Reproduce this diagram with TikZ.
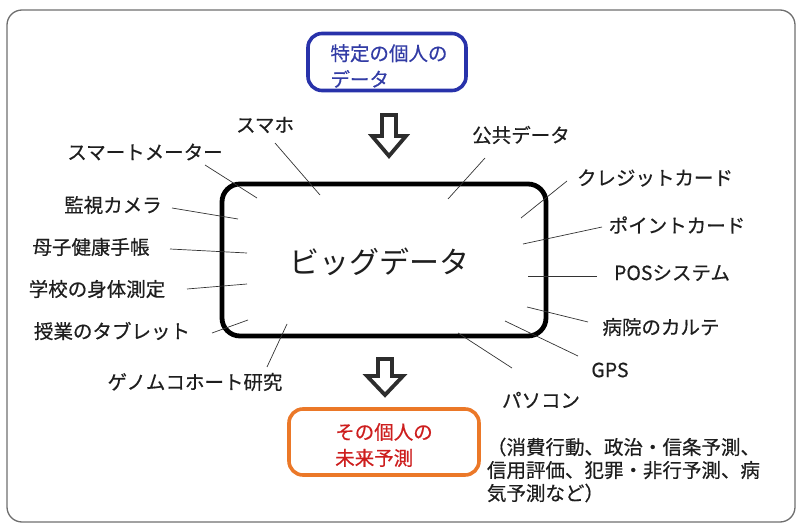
\documentclass[tikz,border=0pt]{standalone}
\usepackage{fontspec}
\setmainfont{Noto Sans CJK JP}
\newfontfamily\lblfont[FakeBold=0.5]{Noto Sans CJK JP}
\definecolor{framegray}{RGB}{110,110,110}
\definecolor{boxblue}{RGB}{40,50,170}
\definecolor{txtblue}{RGB}{50,60,165}
\definecolor{boxorange}{RGB}{235,120,40}
\definecolor{txtred}{RGB}{205,30,30}
\definecolor{arrowgray}{RGB}{45,45,45}
\definecolor{txtdark}{RGB}{30,30,30}
\tikzset{
  lbl/.style={inner sep=0pt, font=\lblfont\fontsize{19.5}{23}\selectfont, text=txtdark},
  conn/.style={draw=black!80, line width=0.7pt},
  hollowarrow/.style={draw=arrowgray, line width=3.8pt, line join=miter},
}
\begin{document}
\begin{tikzpicture}[x=1pt,y=-1pt]
\useasboundingbox (0,0) rectangle (804,532);
% outer frame
\draw[framegray, line width=1.3pt, rounded corners=15pt] (7,10) rectangle (795,522);
% main box
\node[draw=black, line width=4.8pt, rounded corners=18pt, minimum width=324pt, minimum height=152pt, inner sep=0pt] (big) at (384,260) {};
\node[inner sep=0pt, font=\fontsize{30}{34}\selectfont, text=txtdark] (bigtxt) at (379,262) {ビッグデータ};
% top blue box
\node[draw=boxblue, line width=3.6pt, rounded corners=14pt, minimum width=158pt, minimum height=57pt, inner sep=0pt] (topbox) at (387,62) {};
\node[inner sep=0pt, align=left, font=\lblfont\fontsize{19.5}{26}\selectfont, text=txtblue] (toptxt) at (389,66) {特定の個人の\\データ};
% bottom orange box
\node[draw=boxorange, line width=3.6pt, rounded corners=14pt, minimum width=190pt, minimum height=66pt, inner sep=0pt] (botbox) at (384,442) {};
\node[inner sep=0pt, align=left, font=\lblfont\fontsize{19.5}{26}\selectfont, text=txtred] (bottxt) at (384,445) {その個人の\\未来予測};
% note
\node[lbl, align=left] (note) at (623.5,470) {（消費行動、政治・信条予測、\\信用評価、犯罪・非行予測、病\\気予測など）};
% hollow arrows
\draw[hollowarrow] (382,115) -- (396,115) -- (396,136) -- (406,136) -- (389,156) -- (372,136) -- (382,136) -- cycle;
\draw[hollowarrow] (378,359) -- (392,359) -- (392,376) -- (403,376) -- (385,395) -- (367,376) -- (378,376) -- cycle;
% labels
\node[lbl] (smaho) at (265,125) {スマホ};
\node[lbl] (smeter) at (145,152) {スマートメーター};
\node[lbl] (camera) at (113,205) {監視カメラ};
\node[lbl] (boshi) at (91,247) {母子健康手帳};
\node[lbl] (gakko) at (97,289) {学校の身体測定};
\node[lbl] (tablet) at (112,331) {授業のタブレット};
\node[lbl] (genome) at (195,382) {ゲノムコホート研究};
\node[lbl] (public) at (521,135) {公共データ};
\node[lbl] (credit) at (655,178) {クレジットカード};
\node[lbl] (point) at (677,225) {ポイントカード};
\node[lbl] (pos) at (672,273) {POSシステム};
\node[lbl] (karte) at (661,327) {病院のカルテ};
\node[lbl] (gps) at (610,370) {GPS};
\node[lbl] (pc) at (541,400) {パソコン};
% connector endpoints
\coordinate (a1) at (205,165); \coordinate (b1) at (257,198);
\coordinate (a2) at (275,143); \coordinate (b2) at (320,195);
\coordinate (a3) at (172,208); \coordinate (b3) at (238,219);
\coordinate (a4) at (170,249); \coordinate (b4) at (247,253);
\coordinate (a5) at (187,289); \coordinate (b5) at (247,284);
\coordinate (a6) at (212,333); \coordinate (b6) at (248,320);
\coordinate (a7) at (267,367); \coordinate (b7) at (287,324);
\coordinate (a8) at (485,158); \coordinate (b8) at (448,199);
\coordinate (a9) at (567,181); \coordinate (b9) at (521,218);
\coordinate (a10) at (602,227); \coordinate (b10) at (523,244);
\coordinate (a11) at (597,276); \coordinate (b11) at (528,276);
\coordinate (a12) at (588,322); \coordinate (b12) at (527,307);
\coordinate (a13) at (578,356); \coordinate (b13) at (505,321);
\coordinate (a14) at (512,368); \coordinate (b14) at (458,333);
\foreach \i in {1,...,14} { \draw[conn] (a\i) -- (b\i); }
\end{tikzpicture}
\end{document}
